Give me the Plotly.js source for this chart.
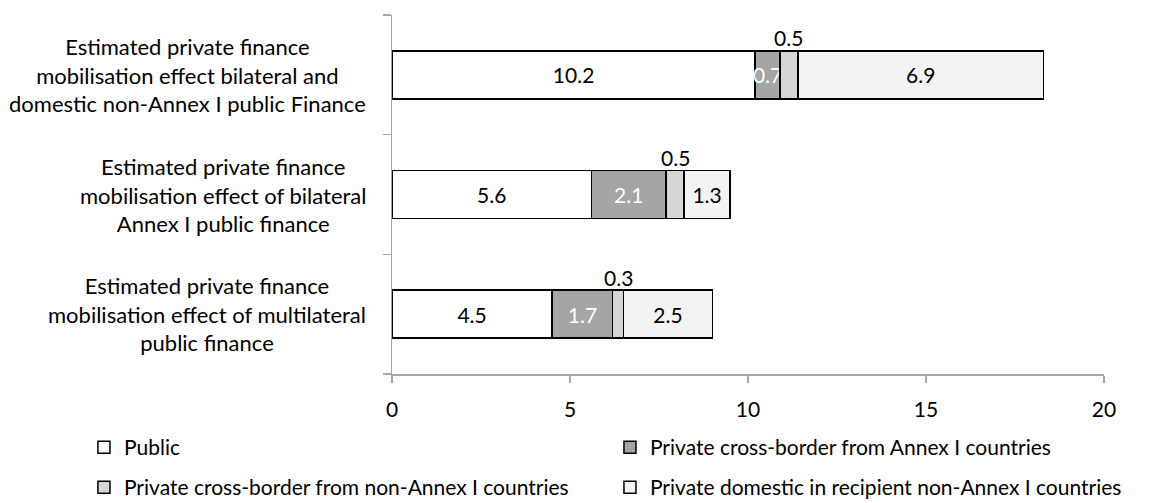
<!DOCTYPE html>
<html>
<head>
<meta charset="utf-8">
<script src="https://cdn.plot.ly/plotly-3.0.1.min.js"></script>
<style>html,body{margin:0;padding:0;background:#fff;}#chart{width:1150px;height:503px;}</style>
</head>
<body>
<div id="chart"></div>
<script>
// Categories, bottom to top
var categories = [
  "Estimated private finance<br>mobilisation effect of multilateral<br>public finance",
  "Estimated private finance<br>mobilisation effect of bilateral<br>Annex I public finance",
  "Estimated private finance<br>mobilisation effect bilateral and<br>domestic non-Annex I public Finance"
];
var seriesNames = [
  "Public",
  "Private cross-border from Annex I countries",
  "Private cross-border from non-Annex I countries",
  "Private domestic in recipient non-Annex I countries"
];
var publicFin = [4.5, 5.6, 10.2];
var crossAnnexI = [1.7, 2.1, 0.7];
var crossNonAnnexI = [0.3, 0.5, 0.5];
var domestic = [2.5, 1.3, 6.9];
var xTicks = [0, 5, 10, 15, 20];

var FONT = "Lato, 'Open Sans', sans-serif";
var lineStyle = {color: "#000000", width: 1.5};

function fmt(v) { return v.toFixed(1); }

var traces = [
  {
    type: "bar", orientation: "h", name: seriesNames[0],
    y: categories, x: publicFin,
    marker: {color: "#ffffff", line: lineStyle},
    text: publicFin.map(fmt), textposition: "inside", insidetextanchor: "middle",
    textangle: 0, constraintext: "none",
    insidetextfont: {family: FONT, size: 21, color: "#000000"},
    legend: "legend"
  },
  {
    type: "bar", orientation: "h", name: seriesNames[1],
    y: categories, x: crossAnnexI,
    marker: {color: "#a5a5a5", line: lineStyle},
    text: crossAnnexI.map(fmt), textposition: "inside", insidetextanchor: "middle",
    textangle: 0, constraintext: "none",
    insidetextfont: {family: FONT, size: 21, color: "#ffffff"},
    legend: "legend2"
  },
  {
    type: "bar", orientation: "h", name: seriesNames[2],
    y: categories, x: crossNonAnnexI,
    marker: {color: "#d6d6d6", line: lineStyle},
    textposition: "none",
    legend: "legend3"
  },
  {
    type: "bar", orientation: "h", name: seriesNames[3],
    y: categories, x: domestic,
    marker: {color: "#f3f3f3", line: lineStyle},
    text: domestic.map(fmt), textposition: "inside", insidetextanchor: "middle",
    textangle: 0, constraintext: "none",
    insidetextfont: {family: FONT, size: 21, color: "#000000"},
    legend: "legend4"
  }
];

var annotations = [];
// Category labels (centered multi-line)
categories.forEach(function (c) {
  annotations.push({
    xref: "paper", yref: "y", x: -0.0337, y: c, text: c,
    xanchor: "right", yanchor: "middle", align: "center", showarrow: false,
    font: {family: FONT, size: 22, color: "#000000"}
  });
});
// Labels for the thin light-grey segments, placed above the bars
categories.forEach(function (c, i) {
  annotations.push({
    xref: "x", yref: "y",
    x: publicFin[i] + crossAnnexI[i] + crossNonAnnexI[i] / 2, y: c,
    text: fmt(crossNonAnnexI[i]), showarrow: false, yshift: 37,
    xanchor: "center", yanchor: "middle",
    font: {family: FONT, size: 21, color: "#000000"}
  });
});

function legendAt(x, y) {
  return {
    orientation: "h", xref: "container", yref: "container",
    x: x, y: y, xanchor: "left", yanchor: "middle",
    font: {family: FONT, size: 21, color: "#000000"},
    bgcolor: "rgba(0,0,0,0)"
  };
}

var layout = {
  width: 1150, height: 503,
  margin: {l: 392, r: 46, t: 15, b: 129, pad: 0},
  paper_bgcolor: "#ffffff", plot_bgcolor: "#ffffff",
  barmode: "stack", bargap: 0.6,
  font: {family: FONT, size: 21, color: "#000000"},
  xaxis: {
    range: [0, 20], tickvals: xTicks, ticktext: xTicks.map(String),
    showgrid: false, zeroline: false,
    showline: true, linecolor: "#a6a6a6", linewidth: 1.5,
    ticks: "outside", ticklen: 7, tickcolor: "#a6a6a6", tickwidth: 1.5,
    ticklabelstandoff: 9,
    tickfont: {family: FONT, size: 21, color: "#000000"},
    fixedrange: true
  },
  yaxis: {
    type: "category", categoryorder: "array", categoryarray: categories,
    showticklabels: false, showgrid: false, zeroline: false,
    showline: true, linecolor: "#a6a6a6", linewidth: 1.5,
    ticks: "outside", ticklen: 8, tickcolor: "#a6a6a6", tickwidth: 1.5,
    tickson: "boundaries",
    fixedrange: true
  },
  legend: legendAt(0.073, 0.1103),
  legend2: legendAt(0.5304, 0.1103),
  legend3: legendAt(0.073, 0.0308),
  legend4: legendAt(0.5304, 0.0308),
  annotations: annotations,
  showlegend: true
};

Plotly.newPlot("chart", traces, layout, {staticPlot: true, displayModeBar: false});
</script>
</body>
</html>
